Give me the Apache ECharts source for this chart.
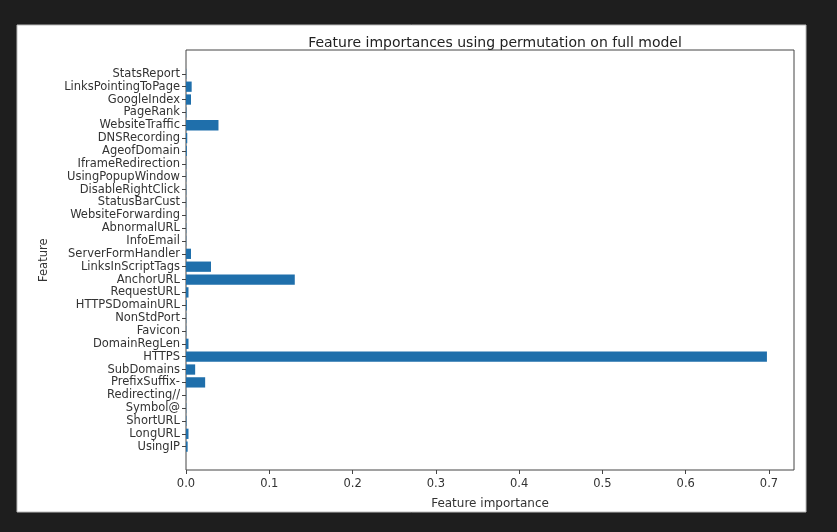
<!DOCTYPE html>
<html>
<head>
<meta charset="utf-8">
<script src="https://cdn.jsdelivr.net/npm/echarts@6/dist/echarts.min.js"></script>
<style>
html,body{margin:0;padding:0;background:#1e1e1e;}
#c{width:837px;height:532px;}
</style>
</head>
<body>
<div id="c"></div>
<script>
// Data (bottom to top as drawn)
var features = ['UsingIP','LongURL','ShortURL','Symbol@','Redirecting//','PrefixSuffix-','SubDomains','HTTPS','DomainRegLen','Favicon','NonStdPort','HTTPSDomainURL','RequestURL','AnchorURL','LinksInScriptTags','ServerFormHandler','InfoEmail','AbnormalURL','WebsiteForwarding','StatusBarCust','DisableRightClick','UsingPopupWindow','IframeRedirection','AgeofDomain','DNSRecording','WebsiteTraffic','PageRank','GoogleIndex','LinksPointingToPage','StatsReport'];
var importance = [0.002,0.003,0.0005,0.0003,0.0003,0.023,0.011,0.6975,0.003,0.0003,0.0003,0.001,0.003,0.1306,0.030,0.006,0.0003,0.0003,0.0003,0.0003,0.0003,0.0003,0.0003,0.001,0.0015,0.039,0.0005,0.006,0.0068,0.0003];
var xTicks = ['0.0','0.1','0.2','0.3','0.4','0.5','0.6','0.7'];
var titleText = 'Feature importances using permutation on full model';
var xName = 'Feature importance';
var yName = 'Feature';

var chart = echarts.init(document.getElementById('c'), null, {renderer:'canvas'});
var font = 'DejaVu Sans';
var option = {
  backgroundColor: '#1e1e1e',
  animation: false,
  graphic: [{
    type: 'rect', z: -10,
    shape: {x: 17, y: 25, width: 789, height: 487},
    style: {fill: '#ffffff', stroke: '#bbbbbb', lineWidth: 1}
  }],
  title: {
    text: titleText, left: 490, top: 31, textAlign: 'center',
    textStyle: {fontFamily: font, fontSize: 14, fontWeight: 'normal', color: '#222'}
  },
  grid: [
    {left: 186, top: 50, right: 43, bottom: 62, show: true, borderColor: '#444', borderWidth: 1, backgroundColor: 'transparent', containLabel: false},
    {left: 186, top: 67.4, right: 43, bottom: 78.9, containLabel: false}
  ],
  xAxis: [
    {gridIndex: 0, type: 'value', min: 0, max: 0.73, interval: 0.1,
     axisLine: {show: false}, splitLine: {show: false},
     axisTick: {show: true, inside: false, length: 4, lineStyle: {color: '#444'}},
     axisLabel: {fontFamily: font, fontSize: 11.5, color: '#333', margin: 8, showMaxLabel: false,
       formatter: function(v){ var i = Math.round(v*10); return (Math.abs(v*10 - i) < 1e-6 && i < xTicks.length) ? xTicks[i] : ''; }},
     name: xName, nameLocation: 'middle', nameGap: 28,
     nameTextStyle: {fontFamily: font, fontSize: 12, color: '#333'}},
    {gridIndex: 1, type: 'value', min: 0, max: 0.73, show: false}
  ],
  yAxis: [
    {gridIndex: 0, type: 'value', min: 0, max: 1, show: false},
    {gridIndex: 1, type: 'category', data: features,
     axisLine: {show: false}, splitLine: {show: false},
     axisTick: {show: true, alignWithLabel: true, inside: false, length: 4, lineStyle: {color: '#444'}},
     axisLabel: {fontFamily: font, fontSize: 11.5, color: '#333', margin: 6, interval: 0},
     name: yName, nameLocation: 'middle', nameGap: 136, nameRotate: 90,
     nameTextStyle: {fontFamily: font, fontSize: 11.5, color: '#333'}}
  ],
  series: [{
    type: 'bar', xAxisIndex: 1, yAxisIndex: 1,
    data: importance, barWidth: '80%',
    itemStyle: {color: '#1f6fab'}
  }]
};
chart.setOption(option);
</script>
</body>
</html>
